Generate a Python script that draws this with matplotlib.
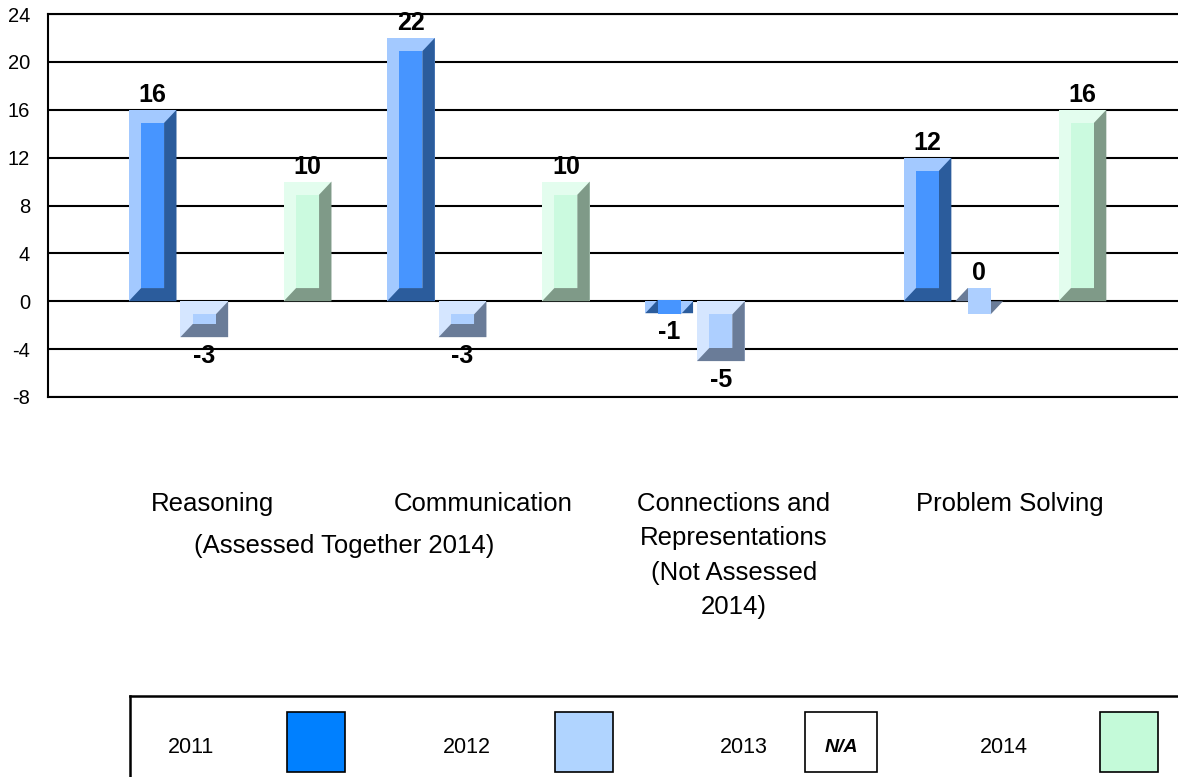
import matplotlib.pyplot as plt
from matplotlib.patches import Polygon, Rectangle

plt.rcParams['font.family'] = ['Liberation Sans', 'DejaVu Sans']
plt.rcParams['axes.unicode_minus'] = False

categories = ['Reasoning', 'Communication',
              'Connections and\nRepresentations\n(Not Assessed\n2014)',
              'Problem Solving']
shared_note = '(Assessed Together 2014)'
years = ['2011', '2012', '2013', '2014']
# None = not shown (2013 N/A, Connections not assessed 2014)
values = {
    '2011': [16, 22, -1, 12],
    '2012': [-3, -3, -5, 0],
    '2013': [None, None, None, None],
    '2014': [10, 10, None, 16],
}
yticks = [-8, -4, 0, 4, 8, 12, 16, 20, 24]

# light / face / dark shades of each bevelled bar
shades = {
    '2011': ('#a3c9ff', '#4795ff', '#2b5c9c'),
    '2012': ('#d5e6ff', '#adcfff', '#6a7c98'),
    '2013': ('#ffffff', '#ffffff', '#ffffff'),
    '2014': ('#e3fdee', '#cbfadf', '#7f9a88'),
}
swatch = {'2011': '#0080ff', '2012': '#b0d4ff', '2013': '#ffffff', '2014': '#c4fad9'}

W, H = 1178, 777
fig = plt.figure(figsize=(W / 100, H / 100), dpi=100)
ax = fig.add_axes([48 / W, 380 / H, 1 - 48 / W, 383 / H])

offsets = [-0.3, -0.1, 0.1, 0.3]
bw = 0.185
bx = 0.048   # bevel width, x units
by = 1.1     # bevel height, y units


def bevel_bar(x, h, cols):
    light, face, dark = cols
    x0, x1 = x - bw / 2, x + bw / 2
    lo, hi = min(0, h), max(0, h)
    ax.add_patch(Rectangle((x0, lo), bw, hi - lo, facecolor=light, edgecolor='none', zorder=3))
    ax.add_patch(Polygon([(x0, lo), (x1, lo), (x1, hi), (x1 - bx, hi - by),
                          (x1 - bx, lo + by), (x0 + bx, lo + by)],
                         closed=True, facecolor=dark, edgecolor='none', zorder=3))
    ax.add_patch(Rectangle((x0 + bx, lo + by), bw - 2 * bx, (hi - by) - (lo + by),
                           facecolor=face, edgecolor='none', zorder=4))


for k, yr in enumerate(years):
    for i, v in enumerate(values[yr]):
        if v is None:
            continue
        x = i + offsets[k]
        bevel_bar(x, v, shades[yr])
        if v >= 0:
            ax.annotate(str(v), (x, max(v, by)), xytext=(0, 2), textcoords='offset points',
                        ha='center', va='bottom', fontsize=18, fontweight='bold', zorder=6)
        else:
            ax.annotate(str(v), (x, v), xytext=(0, -5), textcoords='offset points',
                        ha='center', va='top', fontsize=18, fontweight='bold', zorder=6)

ax.set_xlim(-0.705, 3.67)
ax.set_ylim(-8, 24)
ax.set_yticks(yticks)
ax.tick_params(axis='y', length=0, pad=13, labelsize=14.5)
ax.yaxis.grid(True, color='black', linewidth=1.5, zorder=1)
ax.set_axisbelow(True)
for s in ['top', 'bottom', 'left']:
    ax.spines[s].set_linewidth(1.5)
ax.spines['right'].set_visible(False)

# category labels under the chart
ax.set_xticks([])
cat_shift = [-0.07, -0.02, -0.05, 0.02]
xt = ax.get_xaxis_transform()
for i, name in enumerate(categories):
    ax.text(i + cat_shift[i], -0.248, name, transform=xt, fontsize=18.5,
            ha='center', va='top', linespacing=1.55, multialignment='center')
ax.text(0.44, -0.39, shared_note, transform=xt, fontsize=18.5, ha='center', va='center')

# legend box
lg = fig.add_axes([130 / W, 0, 1 - 130 / W, 81 / H])
lg.set_xlim(0, 1)
lg.set_ylim(0, 1)
lg.set_xticks([])
lg.set_yticks([])
lg.spines['bottom'].set_visible(False)
lg.spines['right'].set_visible(False)
lg.spines['top'].set_linewidth(1.8)
lg.spines['left'].set_linewidth(1.8)
label_x = [0.036, 0.299, 0.563, 0.811]
sw_x = [0.150, 0.406, 0.644, 0.926]
sw_w = [0.055, 0.055, 0.069, 0.055]
for k, yr in enumerate(years):
    lg.text(label_x[k], 0.37, yr, fontsize=15.5, va='center', ha='left')
    lg.add_patch(Rectangle((sw_x[k], 0.06), sw_w[k], 0.74, facecolor=swatch[yr],
                           edgecolor='black', linewidth=1.2))
    if yr == '2013':
        lg.text(sw_x[k] + sw_w[k] / 2, 0.37, 'N/A', fontsize=14, fontweight='bold',
                fontstyle='italic', ha='center', va='center')

fig.savefig('out.png', dpi=100)
